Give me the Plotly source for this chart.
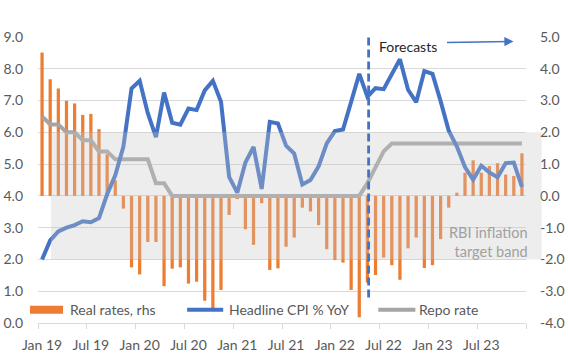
import plotly.graph_objects as go

# ---------------- data ----------------
month_idx = list(range(60))  # Jan 19 ... Dec 23
tick_pos = [0, 6, 12, 18, 24, 30, 36, 42, 48, 54]
tick_labels = ["Jan 19", "Jul 19", "Jan 20", "Jul 20", "Jan 21",
               "Jul 21", "Jan 22", "Jul 22", "Jan 23", "Jul 23"]

cpi = [2.0, 2.6, 2.88, 3.0, 3.08, 3.2, 3.17, 3.3, 4.05, 4.65,
       5.55, 7.38, 7.62, 6.6, 5.85, 7.25, 6.3, 6.24, 6.75, 6.7,
       7.32, 7.62, 6.96, 4.6, 4.1, 5.05, 5.54, 4.22, 6.33, 6.28,
       5.58, 5.33, 4.36, 4.5, 4.93, 5.65, 6.04, 6.09, 6.96, 7.84,
       7.12, 7.39, 7.36, 7.81, 8.3, 7.34, 6.95, 7.93, 7.84, 6.98,
       6.05, 5.55, 4.91, 4.51, 4.95, 4.74, 4.59, 5.03, 5.05, 4.28]

repo = [6.5, 6.25, 6.25, 6.0, 6.0, 5.75, 5.75, 5.4, 5.4, 5.15,
        5.15, 5.15, 5.15, 5.15, 4.4, 4.4, 4.0, 4.0, 4.0, 4.0,
        4.0, 4.0, 4.0, 4.0, 4.0, 4.0, 4.0, 4.0, 4.0, 4.0,
        4.0, 4.0, 4.0, 4.0, 4.0, 4.0, 4.0, 4.0, 4.0, 4.0,
        4.4, 4.9, 5.4, 5.65, 5.65, 5.65, 5.65, 5.65, 5.65, 5.65,
        5.65, 5.65, 5.65, 5.65, 5.65, 5.65, 5.65, 5.65, 5.65, 5.65]

real_rates = [4.51, 3.67, 3.38, 2.99, 2.91, 2.55, 2.58, 2.10, 1.31, 0.49,
              -0.40, -2.25, -2.47, -1.45, -1.45, -2.84, -2.29, -2.25, -2.76, -2.70,
              -3.30, -3.56, -2.96, -0.60, -0.10, -1.05, -1.54, -0.23, -2.33, -2.28,
              -1.60, -1.31, -0.37, -0.49, -0.92, -1.68, -2.02, -2.10, -2.96, -3.82,
              -2.73, -2.49, -1.94, -2.18, -2.64, -1.65, -1.31, -2.27, -2.18, -1.36,
              -0.37, 0.10, 0.73, 1.12, 0.73, 0.94, 1.03, 0.67, 0.63, 1.34]

left_ticks = [0, 1, 2, 3, 4, 5, 6, 7, 8, 9]
left_labels = ["0.0", "1.0", "2.0", "3.0", "4.0", "5.0", "6.0", "7.0", "8.0", "9.0"]
right_ticks = [-4, -3, -2, -1, 0, 1, 2, 3, 4, 5]
right_labels = ["-4.0", "-3.0", "-2.0", "-1.0", "0.0", "1.0", "2.0", "3.0", "4.0", "5.0"]

# ---------------- style ----------------
ORANGE = "#ED7D31"
BLUE = "#4472C4"
GREY = "#A5A5A5"
GRID = "#D9D9D9"
TXT = "#595959"
FONT = "Lato"

fig = go.Figure()

fig.add_trace(go.Bar(x=month_idx, y=real_rates, yaxis="y", marker_color=ORANGE,
                     marker_line_width=0, name="Real rates, rhs", showlegend=False))
fig.add_trace(go.Scatter(x=month_idx, y=repo, yaxis="y2", mode="lines",
                         line=dict(color=GREY, width=4), name="Repo rate", showlegend=False))
fig.add_trace(go.Scatter(x=month_idx, y=cpi, yaxis="y2", mode="lines",
                         line=dict(color=BLUE, width=4), name="Headline CPI % YoY", showlegend=False))

shapes = [
    # RBI inflation target band (2-6 on left axis), semi-transparent overlay
    dict(type="rect", xref="paper", yref="y2", x0=0.0267, x1=1.032, y0=2, y1=6,
         fillcolor="rgba(200,200,200,0.32)", line_width=0, layer="above"),
    # forecast divider
    dict(type="line", xref="x", yref="y2", x0=40.15, x1=40.15, y0=0.8, y1=9.1,
         line=dict(color=BLUE, width=2.8, dash="8px,4px"), layer="above"),
    # legend keys
    dict(type="rect", xref="paper", yref="paper", x0=-0.0164, x1=0.0513, y0=0.0325, y1=0.0604,
         fillcolor=ORANGE, line_width=0, layer="above"),
    dict(type="line", xref="paper", yref="paper", x0=0.3056, x1=0.3795, y0=0.0465, y1=0.0465,
         line=dict(color=BLUE, width=4), layer="above"),
    dict(type="line", xref="paper", yref="paper", x0=0.6974, x1=0.7733, y0=0.0465, y1=0.0465,
         line=dict(color=GREY, width=4), layer="above"),
]

annotations = [
    dict(text="Forecasts", xref="x", yref="y2", x=41.19, y=8.69, xanchor="left",
         yanchor="middle", showarrow=False, font=dict(family=FONT, size=14, color="#262626")),
    dict(text="", xref="x", yref="y2", x=57.96, y=8.86, ax=-68, ay=1, showarrow=True,
         arrowhead=2, arrowsize=1.3, arrowwidth=1.4, arrowcolor=BLUE, standoff=0),
    dict(text="RBI inflation<br>target band", xref="paper", yref="y2", x=1.0092, y=2.56,
         xanchor="right", yanchor="middle", align="right", showarrow=False,
         font=dict(family=FONT, size=14.5, color="#A0A0A0")),
    dict(text="Real rates, rhs", xref="paper", yref="paper", x=0.0615, y=0.0465,
         xanchor="left", yanchor="middle", showarrow=False, font=dict(family=FONT, size=14, color=TXT)),
    dict(text="Headline CPI % YoY", xref="paper", yref="paper", x=0.3877, y=0.0465,
         xanchor="left", yanchor="middle", showarrow=False, font=dict(family=FONT, size=14, color=TXT)),
    dict(text="Repo rate", xref="paper", yref="paper", x=0.7774, y=0.0465,
         xanchor="left", yanchor="middle", showarrow=False, font=dict(family=FONT, size=14, color=TXT)),
]

fig.update_layout(
    width=568, height=356,
    margin=dict(l=38, r=42, t=37, b=33, pad=0, autoexpand=False),
    paper_bgcolor="white", plot_bgcolor="white",
    font=dict(family=FONT, size=14, color=TXT),
    bargap=0.6,
    showlegend=False,
    shapes=shapes,
    annotations=annotations,
    xaxis=dict(range=[-0.5, 59.5], tickmode="array", tickvals=tick_pos, ticktext=tick_labels,
               ticks="", showgrid=False, zeroline=False, showline=True, linecolor=GRID,
               linewidth=1.3, ticklabelstandoff=9, automargin=False,
               tickfont=dict(family=FONT, size=14, color=TXT),
               minor=dict(ticks="outside", ticklen=5, tickwidth=1.3, tickcolor=GRID,
                          tickmode="linear", tick0=-0.5, dtick=6, showgrid=False)),
    yaxis=dict(range=[-4, 5], side="right", tickmode="array", tickvals=right_ticks,
               ticktext=right_labels, showgrid=True, gridcolor=GRID, gridwidth=1.3,
               zeroline=False, ticks="", ticklabelstandoff=13, automargin=False,
               tickfont=dict(family=FONT, size=14, color=TXT)),
    yaxis2=dict(range=[0, 9], side="left", overlaying="y", tickmode="array",
                tickvals=left_ticks, ticktext=left_labels, showgrid=False, zeroline=False,
                ticks="", ticklabelstandoff=14, automargin=False,
                tickfont=dict(family=FONT, size=14, color=TXT)),
)

fig.write_html("out.html", config={"displayModeBar": False},
               post_script="document.body.style.margin='0';document.body.style.padding='0';")
